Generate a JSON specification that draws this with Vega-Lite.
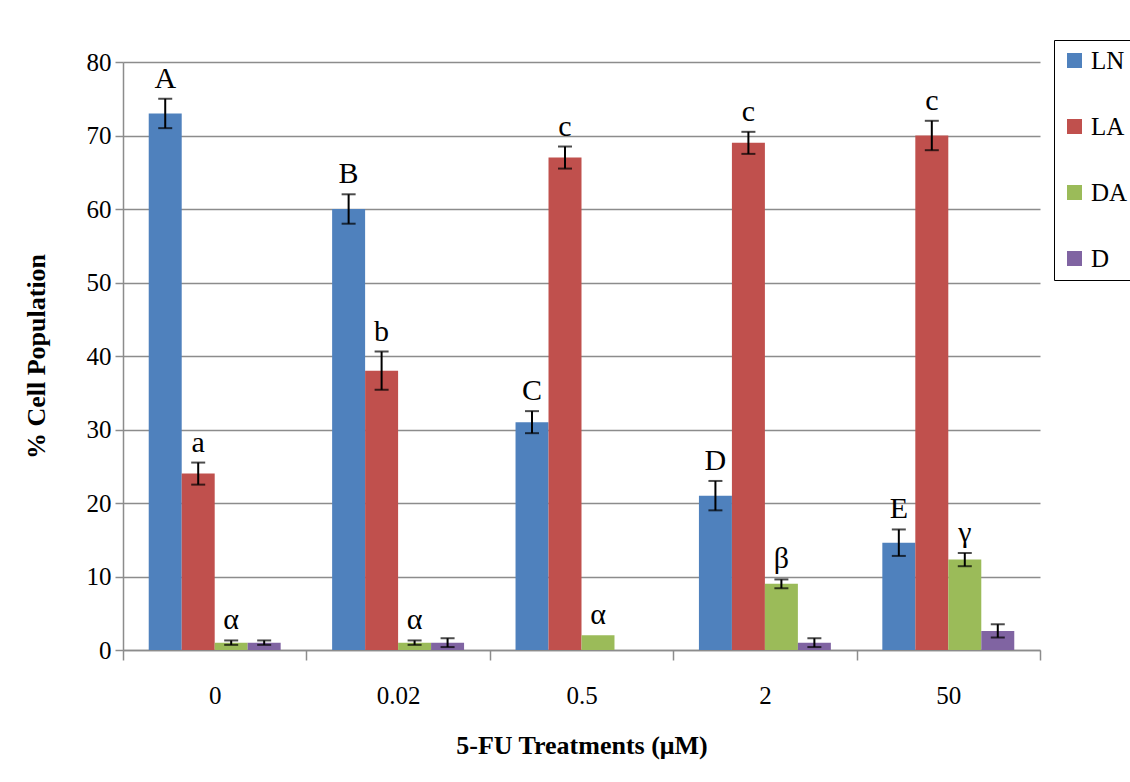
{
  "$schema": "https://vega.github.io/schema/vega-lite/v6.json",
  "width": 917,
  "height": 588,
  "autosize": "none",
  "padding": {"left": 123, "top": 62, "right": 90, "bottom": 132},
  "background": "white",
  "config": {
    "font": "Liberation Serif",
    "view": {"stroke": null},
    "axis": {"labelFont": "Liberation Serif", "titleFont": "Liberation Serif", "labelColor": "black", "titleColor": "black"},
    "legend": {"strokeColor": "black"}
  },
  "data": {
    "values": [
      {"dose": "0", "type": "LN", "value": 73, "lo": 71, "hi": 75, "ly": 75, "label": "A"},
      {"dose": "0", "type": "LA", "value": 24, "lo": 22.5, "hi": 25.5, "ly": 25.5, "label": "a"},
      {"dose": "0", "type": "DA", "value": 1, "lo": 0.7, "hi": 1.3, "ly": 1.3, "label": "α"},
      {"dose": "0", "type": "D", "value": 1, "lo": 0.7, "hi": 1.3, "ly": null, "label": null},
      {"dose": "0.02", "type": "LN", "value": 60, "lo": 58, "hi": 62, "ly": 62, "label": "B"},
      {"dose": "0.02", "type": "LA", "value": 38, "lo": 35.4, "hi": 40.6, "ly": 40.6, "label": "b"},
      {"dose": "0.02", "type": "DA", "value": 1, "lo": 0.7, "hi": 1.3, "ly": 1.3, "label": "α"},
      {"dose": "0.02", "type": "D", "value": 1, "lo": 0.4, "hi": 1.6, "ly": null, "label": null},
      {"dose": "0.5", "type": "LN", "value": 31, "lo": 29.5, "hi": 32.5, "ly": 32.5, "label": "C"},
      {"dose": "0.5", "type": "LA", "value": 67, "lo": 65.5, "hi": 68.5, "ly": 68.5, "label": "c"},
      {"dose": "0.5", "type": "DA", "value": 2, "lo": null, "hi": null, "ly": 2, "label": "α"},
      {"dose": "0.5", "type": "D", "value": 0, "lo": null, "hi": null, "ly": null, "label": null},
      {"dose": "2", "type": "LN", "value": 21, "lo": 19, "hi": 23, "ly": 23, "label": "D"},
      {"dose": "2", "type": "LA", "value": 69, "lo": 67.5, "hi": 70.5, "ly": 70.5, "label": "c"},
      {"dose": "2", "type": "DA", "value": 9, "lo": 8.4, "hi": 9.6, "ly": 9.6, "label": "β"},
      {"dose": "2", "type": "D", "value": 1, "lo": 0.4, "hi": 1.6, "ly": null, "label": null},
      {"dose": "50", "type": "LN", "value": 14.6, "lo": 12.8, "hi": 16.4, "ly": 16.4, "label": "E"},
      {"dose": "50", "type": "LA", "value": 70, "lo": 68, "hi": 72, "ly": 72, "label": "c"},
      {"dose": "50", "type": "DA", "value": 12.3, "lo": 11.4, "hi": 13.2, "ly": 13.2, "label": "γ"},
      {"dose": "50", "type": "D", "value": 2.6, "lo": 1.7, "hi": 3.5, "ly": null, "label": null}
    ]
  },
  "encoding": {
    "x": {
      "field": "dose", "type": "nominal",
      "sort": ["0", "0.02", "0.5", "2", "50"],
      "scale": {"paddingInner": 0, "paddingOuter": 0},
      "axis": {
        "title": "5-FU Treatments (μM)",
        "labelAngle": 0,
        "labelFont": "Liberation Serif",
        "labelFontSize": 25,
        "labelPadding": 23,
        "titleFont": "Liberation Serif",
        "titleFontSize": 26,
        "titleFontWeight": "bold",
        "titlePadding": 24,
        "tickBand": "extent",
        "tickSize": 10,
        "tickColor": "#8c8c8c",
        "tickWidth": 1.5,
        "domainColor": "#8c8c8c",
        "domainWidth": 1.5,
        "grid": false
      }
    },
    "xOffset": {
      "field": "type", "type": "nominal",
      "sort": ["LN", "LA", "DA", "D"],
      "scale": {"paddingInner": 0, "paddingOuter": 0.78}
    }
  },
  "layer": [
    {
      "mark": {"type": "bar"},
      "encoding": {
        "y": {
          "field": "value", "type": "quantitative",
          "scale": {"domain": [0, 80], "nice": false},
          "axis": {
            "title": "% Cell Population",
            "values": [0, 10, 20, 30, 40, 50, 60, 70, 80],
            "labelFont": "Liberation Serif",
            "labelFontSize": 25,
            "labelPadding": 4,
            "titleFont": "Liberation Serif",
            "titleFontSize": 26,
            "titleFontWeight": "bold",
            "titlePadding": 37,
            "tickSize": 8,
            "tickColor": "#8c8c8c",
            "tickWidth": 1.5,
            "domainColor": "#8c8c8c",
            "domainWidth": 1.5,
            "gridColor": "#8c8c8c",
            "gridWidth": 1.5,
            "gridOpacity": 1
          }
        },
        "color": {
          "field": "type", "type": "nominal",
          "sort": ["LN", "LA", "DA", "D"],
          "scale": {"domain": ["LN", "LA", "DA", "D"], "range": ["#4F81BD", "#C0504D", "#9BBB59", "#8064A2"]},
          "legend": {
            "title": null,
            "orient": "none",
            "legendX": 931,
            "legendY": -22,
            "padding": 8,
            "strokeColor": "black",
            "symbolType": "square",
            "symbolSize": 225,
            "symbolStrokeWidth": 0,
            "labelFontSize": 25,
            "labelFont": "Liberation Serif",
            "labelColor": "black",
            "labelOffset": 4,
            "rowPadding": 40
          }
        }
      }
    },
    {
      "transform": [{"filter": "datum.lo != null"}],
      "mark": {"type": "rule", "color": "black", "strokeWidth": 2},
      "encoding": {
        "y": {"field": "lo", "type": "quantitative"},
        "y2": {"field": "hi"}
      }
    },
    {
      "transform": [{"filter": "datum.lo != null"}],
      "mark": {"type": "tick", "color": "black", "thickness": 2, "size": 14},
      "encoding": {
        "y": {"field": "lo", "type": "quantitative"}
      }
    },
    {
      "transform": [{"filter": "datum.lo != null"}],
      "mark": {"type": "tick", "color": "black", "thickness": 2, "size": 14},
      "encoding": {
        "y": {"field": "hi", "type": "quantitative"}
      }
    },
    {
      "transform": [{"filter": "datum.label != null"}],
      "mark": {"type": "text", "font": "Liberation Serif", "fontSize": 30, "color": "black", "baseline": "alphabetic", "dy": -11},
      "encoding": {
        "y": {"field": "ly", "type": "quantitative"},
        "text": {"field": "label"}
      }
    }
  ]
}
